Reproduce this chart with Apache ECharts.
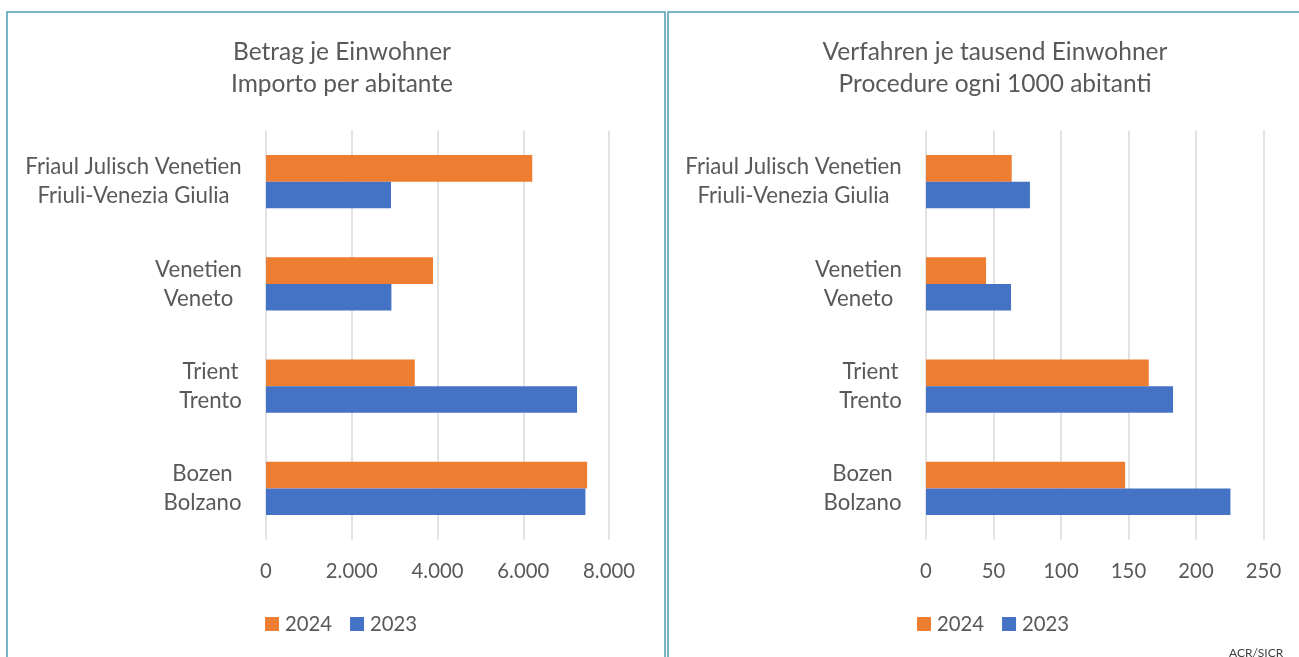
<!DOCTYPE html>
<html>
<head>
<meta charset="utf-8">
<script src="https://cdn.jsdelivr.net/npm/echarts@6/dist/echarts.min.js"></script>
<style>
  html, body { margin: 0; padding: 0; background: #fff; }
  #main { width: 1299px; height: 657px; }
</style>
</head>
<body>
<div id="main"></div>
<script>
// categories (top to bottom), two lines each: German / Italian
var regions = ['Friaul Julisch Venetien\nFriuli-Venezia Giulia', 'Venetien\nVeneto', 'Trient\nTrento', 'Bozen\nBolzano'];
var years = ['2024', '2023'];

// Betrag je Einwohner / Importo per abitante
var betrag2024 = [6210, 3895, 3470, 7490];
var betrag2023 = [2915, 2925, 7255, 7450];

// Verfahren je tausend Einwohner / Procedure ogni 1000 abitanti
var verfahren2024 = [63.5, 44.5, 165, 147.5];
var verfahren2023 = [77, 63, 183, 225.5];

// axis ticks
var betragTicks = { min: 0, max: 8000, interval: 2000 };
var verfahrenTicks = { min: 0, max: 250, interval: 50 };

var FONT = 'Lato, "Open Sans", sans-serif';
var GREY = '#595959';
var ORANGE = '#ED7D31';
var BLUE = '#4472C4';

var cv = document.createElement('canvas').getContext('2d');
function textWidth(txt, size) {
    cv.font = size + 'px ' + FONT;
    return cv.measureText(txt).width;
}
// pick a font size so a sample string gets the width seen in the picture
function fitSize(sample, px) {
    return Math.round(100 * px / textWidth(sample, 100) * 10) / 10;
}
var LABEL_SIZE = fitSize('Friaul Julisch Venetien', 217);
var TITLE_SIZE = fitSize('Betrag je Einwohner', 218);
var TICK_SIZE = fitSize('2.000', 52);
var LEGEND_SIZE = fitSize('2024', 47);

// each label block right-aligned, its lines centred inside it
var rich = {};
regions.forEach(function (r, i) {
    var w = 0;
    r.split('\n').forEach(function (l) { w = Math.max(w, textWidth(l, LABEL_SIZE)); });
    rich['c' + i] = { width: Math.ceil(w) + 2, align: 'center', fontSize: LABEL_SIZE, fontFamily: FONT, color: GREY, lineHeight: 29 };
});

function dotThousands(v) {
    return String(v).replace(/\B(?=(\d{3})+(?!\d))/g, '.');
}

function catAxis(gridIndex) {
    return {
        type: 'category',
        gridIndex: gridIndex,
        data: regions,
        inverse: true,
        axisLine: { show: false },
        axisTick: { show: false },
        axisLabel: {
            margin: 23,
            align: 'right',
            formatter: function (v, i) {
                return v.split('\n').map(function (l) { return '{c' + i + '|' + l + '}'; }).join('\n');
            },
            rich: rich
        }
    };
}

function valAxis(gridIndex, ticks) {
    return {
        type: 'value',
        gridIndex: gridIndex,
        min: ticks.min,
        max: ticks.max,
        interval: ticks.interval,
        axisLine: { show: false },
        axisTick: { show: false },
        splitLine: { show: true, lineStyle: { color: '#D9D9D9', width: 1.5 } },
        axisLabel: {
            margin: 22,
            fontSize: TICK_SIZE,
            fontFamily: FONT,
            color: GREY,
            formatter: function (v) { return dotThousands(v); }
        }
    };
}

function barSeries(name, data, idx, color) {
    return {
        name: name,
        type: 'bar',
        xAxisIndex: idx,
        yAxisIndex: idx,
        data: data,
        barGap: '0%',
        barCategoryGap: '48%',
        itemStyle: { color: color },
        emphasis: { disabled: true }
    };
}

function legendAt(left) {
    return {
        left: left,
        top: 614,
        padding: 0,
        icon: 'rect',
        itemWidth: 14,
        itemHeight: 14,
        itemGap: 18,
        data: years,
        selectedMode: false,
        textStyle: { fontSize: LEGEND_SIZE, fontFamily: FONT, color: GREY, padding: [0, 0, 0, 1] }
    };
}

function titleAt(x, text) {
    return {
        text: text,
        left: x, top: 31, textAlign: 'center',
        textStyle: { fontSize: TITLE_SIZE, lineHeight: 32, fontWeight: 'normal', fontFamily: FONT, color: GREY }
    };
}

var chart = echarts.init(document.getElementById('main'));
var option = {
    animation: false,
    backgroundColor: '#fff',
    title: [
        titleAt(337, 'Betrag je Einwohner\nImporto per abitante'),
        titleAt(990, 'Verfahren je tausend Einwohner\nProcedure ogni 1000 abitanti')
    ],
    legend: [legendAt(265), legendAt(917)],
    grid: [
        { left: 266, top: 130.5, width: 343, height: 409 },
        { left: 926, top: 130.5, width: 337.5, height: 409 }
    ],
    yAxis: [catAxis(0), catAxis(1)],
    xAxis: [valAxis(0, betragTicks), valAxis(1, verfahrenTicks)],
    series: [
        barSeries('2024', betrag2024, 0, ORANGE),
        barSeries('2023', betrag2023, 0, BLUE),
        barSeries('2024', verfahren2024, 1, ORANGE),
        barSeries('2023', verfahren2023, 1, BLUE)
    ],
    graphic: [
        // panel frames
        { type: 'rect', silent: true, shape: { x: 7, y: 12, width: 658, height: 700 }, style: { fill: 'none', stroke: '#4E9AB3', lineWidth: 1.5 } },
        { type: 'rect', silent: true, shape: { x: 668, y: 12, width: 700, height: 700 }, style: { fill: 'none', stroke: '#4E9AB3', lineWidth: 1.5 } },
        { type: 'text', silent: true, left: 1229, top: 647, style: { text: 'ACR/SICR', fontSize: 12, fontFamily: FONT, fill: '#404040' } }
    ]
};
chart.setOption(option);
</script>
</body>
</html>
